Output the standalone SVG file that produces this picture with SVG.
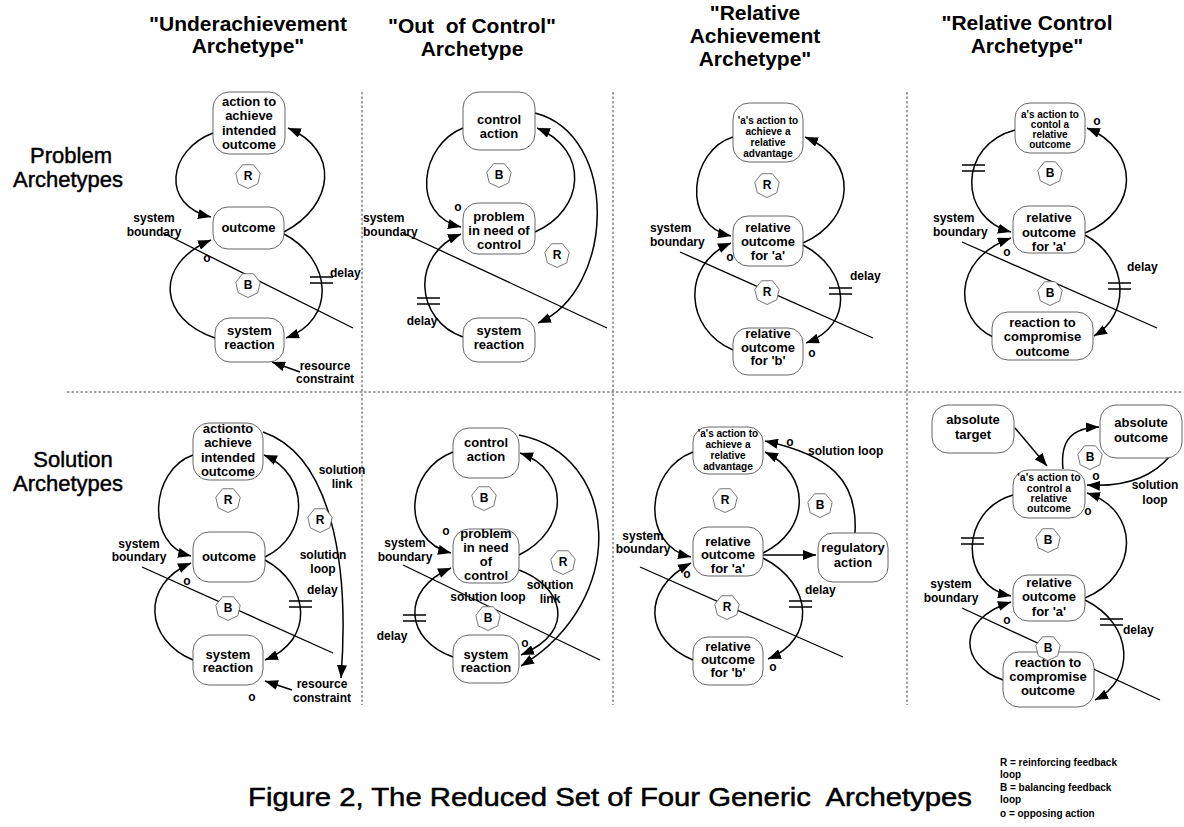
<svg xmlns="http://www.w3.org/2000/svg" width="1184" height="827" viewBox="0 0 1184 827">
<defs>
<style>
text{font-family:"Liberation Sans",Arial,sans-serif;font-weight:bold;fill:#000}
.h{font-size:21px;text-anchor:middle}
.row{font-size:22px;font-weight:normal;text-anchor:middle;stroke:#000;stroke-width:0.45}
.n rect{fill:#fff;stroke:#555;stroke-width:0.9}
.n text{font-size:13px;text-anchor:middle}
.n text.s{font-size:10px}
.l{font-size:12px}
.m{text-anchor:middle}
.lp use{fill:#fff;stroke:#666;stroke-width:0.9}
.lp text{font-size:12px;text-anchor:middle}
.c{fill:none;stroke:#000;stroke-width:1.5;marker-end:url(#ah)}
.sb{stroke:#000;stroke-width:1.3}
.dl{stroke:#000;stroke-width:1.5}
.grid{stroke:#333;stroke-width:0.9;stroke-dasharray:2.5 2;fill:none}
.leg{font-size:10px}
.cap{font-size:26px;font-weight:normal;stroke:#000;stroke-width:0.5}
</style>
<marker id="ah" markerUnits="userSpaceOnUse" markerWidth="14" markerHeight="10" refX="13" refY="5" orient="auto"><path d="M0,0 L13,5 L0,10 z" fill="#000"/></marker>
<polygon id="hept" points="0,12.5 -9.77,7.79 -12.19,-2.78 -5.42,-11.26 5.42,-11.26 12.19,-2.78 9.77,7.79"/>
</defs>
<rect width="1184" height="827" fill="#fff"/>

<!-- column headers -->
<g id="headers">
<text class="h" x="248" y="31">"Underachievement</text>
<text class="h" x="248" y="53">Archetype"</text>
<text class="h" x="472" y="33">"Out&#160; of Control"</text>
<text class="h" x="472" y="56">Archetype</text>
<text class="h" x="755" y="20">"Relative</text>
<text class="h" x="755" y="43">Achievement</text>
<text class="h" x="755" y="66">Archetype"</text>
<text class="h" x="1027" y="30">"Relative Control</text>
<text class="h" x="1027" y="53">Archetype"</text>
</g>

<!-- row headers -->
<g id="rows">
<text class="row" x="71" y="163">Problem</text>
<text class="row" x="68" y="187">Archetypes</text>
<text class="row" x="73" y="467">Solution</text>
<text class="row" x="68" y="491">Archetypes</text>
</g>

<!-- dotted grid -->
<g id="grid" class="grid">
<path d="M67,392 H1182"/>
<path d="M362,92 V705"/>
<path d="M613,92 V705"/>
<path d="M907,92 V705"/>
</g>

<!-- connectors -->
<g id="connectors">
<!-- system boundaries -->
<line class="sb" x1="163" y1="233" x2="353" y2="328"/>
<line class="sb" x1="403" y1="233" x2="607" y2="328"/>
<line class="sb" x1="680" y1="252" x2="873" y2="338"/>
<line class="sb" x1="962" y1="242" x2="1157" y2="328"/>
<line class="sb" x1="142" y1="567" x2="333" y2="653"/>
<line class="sb" x1="403" y1="565" x2="600" y2="660"/>
<line class="sb" x1="640" y1="567" x2="843" y2="657"/>
<line class="sb" x1="962" y1="608" x2="1160" y2="700"/>

<!-- underachievement, problem -->
<path class="c" d="M213,133 C168,150 160,205 211,217"/>
<path class="c" d="M284,232 C335,205 340,150 288,128"/>
<path class="c" d="M284,234 C333,260 336,320 286,338"/>
<path class="c" d="M215,338 C160,320 152,265 211,240"/>
<path class="c" d="M300,372 L272,362"/>
<!-- out of control, problem -->
<path class="c" d="M463,128 C420,145 410,215 461,227"/>
<path class="c" d="M535,232 C585,210 590,150 537,128"/>
<path class="c" d="M535,113 C620,135 615,290 538,323"/>
<path class="c" d="M463,337 C415,320 410,255 461,234"/>
<!-- relative achievement, problem -->
<path class="c" d="M733,137 C690,150 680,225 731,236"/>
<path class="c" d="M803,243 C855,220 860,160 805,137"/>
<path class="c" d="M803,245 C850,270 855,325 806,343"/>
<path class="c" d="M733,350 C685,330 680,265 731,243"/>
<!-- relative control, problem -->
<path class="c" d="M1015,130 C958,145 958,218 1011,232"/>
<path class="c" d="M1085,233 C1140,210 1140,150 1087,128"/>
<path class="c" d="M1085,235 C1130,260 1130,315 1094,336"/>
<path class="c" d="M993,337 C955,320 950,260 1011,238"/>

<!-- underachievement, solution -->
<path class="c" d="M193,455 C150,470 145,545 191,556"/>
<path class="c" d="M265,557 C310,535 310,475 264,455"/>
<path class="c" d="M265,560 C310,585 315,640 265,660"/>
<path class="c" d="M193,660 C145,640 140,585 191,563"/>
<path class="c" d="M263,432 C330,455 350,560 341,678"/>
<path class="c" d="M292,690 L265,681"/>
<!-- out of control, solution -->
<path class="c" d="M453,452 C405,470 400,540 451,553"/>
<path class="c" d="M519,555 C570,530 570,470 520,453"/>
<path class="c" d="M519,435 C620,455 630,600 521,666"/>
<path class="c" d="M519,570 C560,585 580,630 521,655"/>
<path class="c" d="M453,657 C405,640 400,590 451,568"/>
<!-- relative achievement, solution -->
<path class="c" d="M693,452 C645,470 640,545 691,557"/>
<path class="c" d="M763,553 C810,530 812,475 765,452"/>
<path class="c" d="M855,533 C858,480 830,455 765,441"/>
<path class="c" d="M763,555 L816,555"/>
<path class="c" d="M763,558 C815,585 815,640 768,659"/>
<path class="c" d="M693,660 C645,640 640,590 691,563"/>
<!-- relative control, solution -->
<path class="c" d="M1015,428 L1047,466"/>
<path class="c" d="M1063,469 C1060,440 1072,428 1099,427"/>
<path class="c" d="M1170,456 C1150,480 1120,487 1087,485"/>
<path class="c" d="M1013,495 C960,510 958,585 1011,596"/>
<path class="c" d="M1085,598 C1140,575 1140,510 1087,493"/>
<path class="c" d="M1085,600 C1135,625 1135,680 1095,700"/>
<path class="c" d="M1003,680 C960,665 955,620 1011,602"/>

<!-- delay marks -->
<g class="dl">
<path d="M310,277 H333 M310,283 H333"/>
<path d="M417,298 H440 M417,304 H440"/>
<path d="M829,288 H852 M829,294 H852"/>
<path d="M962,165 H985 M962,171 H985"/>
<path d="M1108,283 H1131 M1108,289 H1131"/>
<path d="M289,601 H312 M289,607 H312"/>
<path d="M403,615 H426 M403,621 H426"/>
<path d="M789,601 H812 M789,607 H812"/>
<path d="M961,538 H984 M961,544 H984"/>
<path d="M1100,619 H1123 M1100,625 H1123"/>
</g>
</g>

<!-- nodes: underachievement, problem -->
<g id="c1-action" class="n"><rect x="213" y="92" width="72" height="62" rx="16"/><text x="249" y="106">action to</text><text x="249" y="120">achieve</text><text x="249" y="135">intended</text><text x="249" y="149">outcome</text></g>
<g id="c1-outcome" class="n"><rect x="213" y="207" width="71" height="42" rx="15"/><text x="248.5" y="232">outcome</text></g>
<g id="c1-reaction" class="n"><rect x="215" y="318" width="69" height="44" rx="15"/><text x="249.5" y="335">system</text><text x="249.5" y="349">reaction</text></g>

<!-- nodes: out of control, problem -->
<g id="c2-control" class="n"><rect x="463" y="92" width="72" height="58" rx="16"/><text x="499" y="124">control</text><text x="499" y="138">action</text></g>
<g id="c2-problem" class="n"><rect x="463" y="203" width="72" height="51" rx="15"/><text x="499" y="221">problem</text><text x="499" y="235">in need of</text><text x="499" y="249">control</text></g>
<g id="c2-reaction" class="n"><rect x="463" y="318" width="72" height="44" rx="15"/><text x="499" y="335">system</text><text x="499" y="349">reaction</text></g>

<!-- nodes: relative achievement, problem -->
<g id="c3-action" class="n"><rect x="733" y="103" width="70" height="59" rx="16"/><text class="s" x="768" y="124">'a's action to</text><text class="s" x="768" y="135">achieve a</text><text class="s" x="768" y="146">relative</text><text class="s" x="768" y="157">advantage</text></g>
<g id="c3-outcome-a" class="n"><rect x="733" y="216" width="70" height="50" rx="15"/><text x="768" y="232">relative</text><text x="768" y="246">outcome</text><text x="768" y="260">for 'a'</text></g>
<g id="c3-outcome-b" class="n"><rect x="733" y="328" width="70" height="47" rx="15"/><text x="768" y="338">relative</text><text x="768" y="352">outcome</text><text x="768" y="365">for 'b'</text></g>

<!-- nodes: relative control, problem -->
<g id="c4-action" class="n"><rect x="1015" y="103" width="70" height="50" rx="15"/><text class="s" x="1050" y="118">a's action to</text><text class="s" x="1050" y="128">contol a</text><text class="s" x="1050" y="138">relative</text><text class="s" x="1050" y="148">outcome</text></g>
<g id="c4-outcome" class="n"><rect x="1013" y="206" width="72" height="47" rx="15"/><text x="1049" y="222">relative</text><text x="1049" y="237">outcome</text><text x="1049" y="251">for 'a'</text></g>
<g id="c4-reaction" class="n"><rect x="992" y="312" width="101" height="48" rx="16"/><text x="1042.5" y="327">reaction to</text><text x="1042.5" y="341">compromise</text><text x="1042.5" y="356">outcome</text></g>

<!-- nodes: underachievement, solution -->
<g id="c5-action" class="n"><rect x="193" y="423" width="70" height="57" rx="16"/><text x="228" y="433">actionto</text><text x="228" y="447">achieve</text><text x="228" y="462">intended</text><text x="228" y="476">outcome</text></g>
<g id="c5-outcome" class="n"><rect x="193" y="532" width="72" height="50" rx="16"/><text x="229" y="561">outcome</text></g>
<g id="c5-reaction" class="n"><rect x="193" y="635" width="70" height="50" rx="16"/><text x="228" y="659">system</text><text x="228" y="672">reaction</text></g>

<!-- nodes: out of control, solution -->
<g id="c6-control" class="n"><rect x="453" y="428" width="66" height="50" rx="16"/><text x="486" y="447">control</text><text x="486" y="461">action</text></g>
<g id="c6-problem" class="n"><rect x="453" y="529" width="66" height="54" rx="16"/><text x="486" y="538">problem</text><text x="486" y="552">in need</text><text x="486" y="566">of</text><text x="486" y="580">control</text></g>
<g id="c6-reaction" class="n"><rect x="453" y="635" width="66" height="48" rx="16"/><text x="486" y="659">system</text><text x="486" y="672">reaction</text></g>

<!-- nodes: relative achievement, solution -->
<g id="c7-action" class="n"><rect x="693" y="427" width="70" height="47" rx="15"/><text class="s" x="728" y="437">'a's action to</text><text class="s" x="728" y="448">achieve a</text><text class="s" x="728" y="459">relative</text><text class="s" x="728" y="470">advantage</text></g>
<g id="c7-outcome-a" class="n"><rect x="693" y="527" width="70" height="49" rx="15"/><text x="728" y="546">relative</text><text x="728" y="559">outcome</text><text x="728" y="573">for 'a'</text></g>
<g id="c7-regulatory" class="n"><rect x="818" y="533" width="70" height="49" rx="15"/><text x="853" y="552">regulatory</text><text x="853" y="567">action</text></g>
<g id="c7-outcome-b" class="n"><rect x="693" y="637" width="70" height="48" rx="15"/><text x="728" y="651">relative</text><text x="728" y="664">outcome</text><text x="728" y="677">for 'b'</text></g>

<!-- nodes: relative control, solution -->
<g id="c8-target" class="n"><rect x="932" y="405" width="82" height="48" rx="16"/><text x="973" y="424">absolute</text><text x="973" y="439">target</text></g>
<g id="c8-absolute" class="n"><rect x="1100" y="405" width="82" height="53" rx="16"/><text x="1141" y="427">absolute</text><text x="1141" y="442">outcome</text></g>
<g id="c8-action" class="n"><rect x="1013" y="470" width="72" height="48" rx="15"/><text class="s" x="1049" y="480.5" style="font-size:10.5px">'a's action to</text><text class="s" x="1049" y="491.5" style="font-size:10.5px">control a</text><text class="s" x="1049" y="501.5" style="font-size:10.5px">relative</text><text class="s" x="1049" y="511.5" style="font-size:10.5px">outcome</text></g>
<g id="c8-outcome" class="n"><rect x="1013" y="575" width="72" height="46" rx="15"/><text x="1049" y="587">relative</text><text x="1049" y="601">outcome</text><text x="1049" y="616">for 'a'</text></g>
<g id="c8-reaction" class="n"><rect x="1003" y="652" width="91" height="55" rx="16"/><text x="1048" y="667">reaction to</text><text x="1048" y="681">compromise</text><text x="1048" y="695">outcome</text></g>

<!-- loop markers -->
<g id="loops" class="lp">
<g id="c1-loop-r"><use href="#hept" x="248" y="176"/><text x="248" y="180">R</text></g>
<g id="c1-loop-b"><use href="#hept" x="248" y="285"/><text x="248" y="289">B</text></g>
<g id="c2-loop-b"><use href="#hept" x="499" y="175"/><text x="499" y="179">B</text></g>
<g id="c2-loop-r"><use href="#hept" x="557" y="255"/><text x="557" y="259">R</text></g>
<g id="c3-loop-r1"><use href="#hept" x="767" y="185"/><text x="767" y="189">R</text></g>
<g id="c3-loop-r2"><use href="#hept" x="767" y="292"/><text x="767" y="296">R</text></g>
<g id="c4-loop-b1"><use href="#hept" x="1050" y="173"/><text x="1050" y="177">B</text></g>
<g id="c4-loop-b2"><use href="#hept" x="1050" y="293"/><text x="1050" y="297">B</text></g>
<g id="c5-loop-r1"><use href="#hept" x="228" y="500"/><text x="228" y="504">R</text></g>
<g id="c5-loop-r2"><use href="#hept" x="320" y="520"/><text x="320" y="524">R</text></g>
<g id="c5-loop-b"><use href="#hept" x="228" y="608"/><text x="228" y="612">B</text></g>
<g id="c6-loop-b1"><use href="#hept" x="484" y="498"/><text x="484" y="502">B</text></g>
<g id="c6-loop-r"><use href="#hept" x="563" y="562"/><text x="563" y="566">R</text></g>
<g id="c6-loop-b2"><use href="#hept" x="488" y="618"/><text x="488" y="622">B</text></g>
<g id="c7-loop-r1"><use href="#hept" x="725" y="500"/><text x="725" y="504">R</text></g>
<g id="c7-loop-b"><use href="#hept" x="820" y="505"/><text x="820" y="509">B</text></g>
<g id="c7-loop-r2"><use href="#hept" x="727" y="607"/><text x="727" y="611">R</text></g>
<g id="c8-loop-b1"><use href="#hept" x="1090" y="457"/><text x="1090" y="461">B</text></g>
<g id="c8-loop-b2"><use href="#hept" x="1048" y="540"/><text x="1048" y="544">B</text></g>
<g id="c8-loop-b3"><use href="#hept" x="1048" y="648"/><text x="1048" y="652">B</text></g>
</g>

<!-- connector labels -->
<g id="labels" class="l">
<text class="m" x="154" y="222">system</text><text class="m" x="154" y="236">boundary</text>
<text class="m" x="207" y="262">o</text>
<text x="330" y="277">delay</text>
<text class="m" x="325" y="370">resource</text><text class="m" x="325" y="383">constraint</text>

<text x="363" y="222">system</text><text x="363" y="236">boundary</text>
<text class="m" x="458" y="211">o</text>
<text class="m" x="422" y="325">delay</text>

<text x="650" y="232">system</text><text x="650" y="246">boundary</text>
<text class="m" x="730" y="261">o</text>
<text x="850" y="280">delay</text>
<text class="m" x="812" y="357">o</text>

<text x="933" y="222">system</text><text x="933" y="236">boundary</text>
<text class="m" x="1097" y="125">o</text>
<text class="m" x="1007" y="256">o</text>
<text x="1127" y="271">delay</text>

<text class="m" x="139" y="548">system</text><text class="m" x="139" y="561">boundary</text>
<text class="m" x="187" y="585">o</text>
<text class="m" x="342" y="474">solution</text><text class="m" x="342" y="488">link</text>
<text class="m" x="323" y="559">solution</text><text class="m" x="323" y="573">loop</text>
<text x="307" y="594">delay</text>
<text class="m" x="252" y="701">o</text>
<text class="m" x="322" y="688">resource</text><text class="m" x="322" y="702">constraint</text>

<text class="m" x="405" y="547">system</text><text class="m" x="405" y="561">boundary</text>
<text class="m" x="446" y="535">o</text>
<text class="m" x="550" y="589">solution</text><text class="m" x="550" y="603">link</text>
<text class="m" x="488" y="601">solution loop</text>
<text class="m" x="392" y="640">delay</text>
<text class="m" x="525" y="647">o</text>

<text class="m" x="643" y="540">system</text><text class="m" x="643" y="553">boundary</text>
<text class="m" x="790" y="446">o</text>
<text x="808" y="455">solution loop</text>
<text class="m" x="687" y="578">o</text>
<text x="805" y="594">delay</text>
<text class="m" x="773" y="671">o</text>

<text class="m" x="951" y="588">system</text><text class="m" x="951" y="602">boundary</text>
<text class="m" x="1096" y="480">o</text>
<text class="m" x="1155" y="489">solution</text><text class="m" x="1155" y="504">loop</text>
<text class="m" x="1088" y="515">o</text>
<text class="m" x="1007" y="624">o</text>
<text x="1123" y="634">delay</text>
</g>

<!-- caption and legend -->
<g id="caption">
<text class="cap" x="248" y="806" textLength="724" lengthAdjust="spacingAndGlyphs">Figure 2, The Reduced Set of Four Generic&#160; Archetypes</text>
</g>
<g id="legend" class="leg">
<text x="1000" y="766">R = reinforcing feedback</text>
<text x="1000" y="778">loop</text>
<text x="1000" y="791">B = balancing feedback</text>
<text x="1000" y="803">loop</text>
<text x="1000" y="817">o = opposing action</text>
</g>
</svg>
